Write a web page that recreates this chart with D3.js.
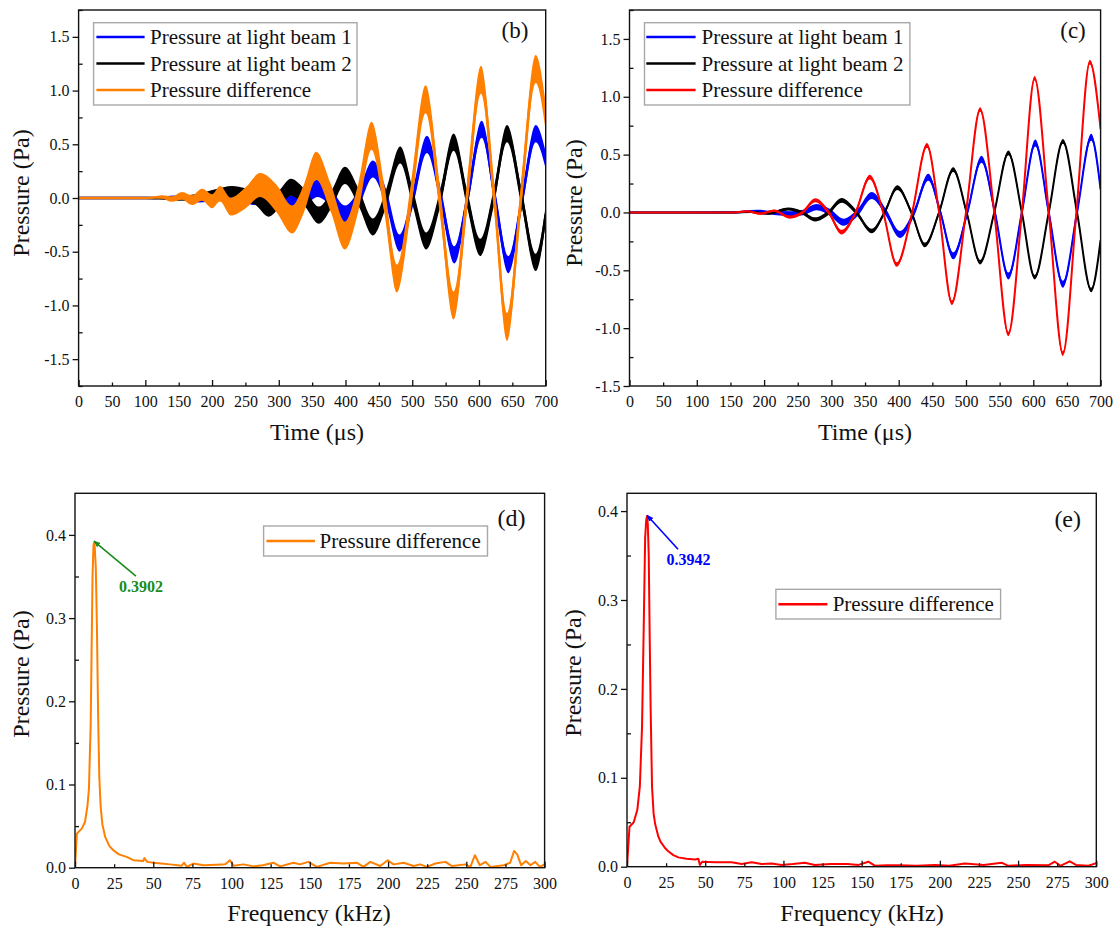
<!DOCTYPE html>
<html><head><meta charset="utf-8">
<script src="https://cdn.jsdelivr.net/npm/d3@7"></script>
<style>body{margin:0;background:#fff} svg text{font-family:"Liberation Serif","Times New Roman",serif}</style>
</head><body>
<svg id="chart" width="1117" height="928"></svg>
<script>
// ---------------- DATA ----------------
// Panel (b): time (µs), pressure (Pa)
const b_beam1 = [[0,0],[100,0],[150,0.005],[180,-0.01],[210,0.02],[240,0.03],[262,0],[282,0.02],[300,0],[319,-0.06],[339,0],[358,0.09],[379,0],[399,-0.15],[420,0],[441,0.27],[461,0],[481,-0.42],[501,0],[522,0.5],[543,0],[563,-0.53],[583,0],[604,0.64],[624,0],[644,-0.62],[665,0],[685,0.6],[700,0.35]];
const b_beam2 = [[0,0],[100,0],[150,-0.005],[180,0.01],[205,0.04],[230,0.06],[250,0.03],[265,0],[285,-0.1],[302,0],[318,0.1],[339,0],[360,-0.16],[380,0],[399,0.21],[420,0],[441,-0.27],[461,0],[482,0.4],[501,0],[521,-0.4],[542,0],[562,0.52],[582,0],[602,-0.46],[622,0],[642,0.6],[664,0],[685,-0.6],[700,-0.15]];
const b_diff  = [[0,0],[100,0],[125,0.01],[140,-0.01],[155,0.02],[170,-0.02],[185,0.03],[200,-0.03],[212,0.04],[228,-0.08],[250,0],[272,0.12],[296,0],[320,-0.2],[338,0],[356,0.3],[378,0],[399,-0.35],[419,0],[439,0.58],[458,0],[477,-0.75],[498,0],[520,0.92],[541,0],[562,-1.0],[582,0],[603,1.1],[623,0],[642,-1.2],[663,0],[685,1.2],[700,0.75]];
// Panel (c)
const c_beam1 = [[0,0],[150,0],[190,0.01],[215,-0.005],[240,-0.01],[258,0],[278,0.046],[298,0],[318,-0.084],[339,0],[360,0.147],[381,0],[402,-0.19],[423,0],[444,0.305],[462,0],[481,-0.375],[502,0],[523,0.46],[543,0],[563,-0.55],[583,0],[603,0.6],[623,0],[644,-0.62],[665,0],[686,0.65],[700,0.2]];
const c_beam2 = [[0,0],[150,0],[180,0.005],[205,-0.01],[236,0.03],[256,0],[276,-0.06],[296,0],[315,0.104],[337,0],[360,-0.16],[379,0],[398,0.215],[419,0],[439,-0.28],[460,0],[481,0.37],[501,0],[521,-0.43],[542,0],[563,0.515],[583,0],[602,-0.56],[623,0],[644,0.615],[665,0],[686,-0.67],[700,-0.24]];
const c_diff  = [[0,0],[150,0],[175,0.01],[195,-0.01],[215,0.015],[238,-0.04],[257,0],[276,0.105],[296,0],[315,-0.17],[336,0],[357,0.305],[377,0],[397,-0.45],[420,0],[442,0.58],[460,0],[479,-0.78],[500,0],[521,0.89],[542,0],[563,-1.05],[583,0],[602,1.16],[623,0],[644,-1.22],[664,0],[684,1.30],[700,0.72]];
// Panel (d): frequency (kHz), amplitude (Pa)
const d_spectrum = [[0,0],[1.2,0.041],[4.3,0.047],[6.4,0.055],[8,0.075],[8.9,0.095],[10,0.17],[10.6,0.26],[11.2,0.35],[11.8,0.387],[12.1,0.3902],[12.6,0.386],[13.3,0.36],[14,0.29],[14.8,0.18],[15.5,0.11],[16.4,0.073],[17.5,0.052],[19.3,0.037],[22,0.026],[24.5,0.021],[28,0.016],[33,0.013],[37.3,0.009],[43.6,0.008],[44.3,0.0116],[46.2,0.007],[50,0.006],[55,0.005],[60.7,0.004],[68.2,0.0024],[69.7,0.006],[71.4,0.001],[75.6,0.005],[82,0.003],[90.5,0.0036],[96,0.004],[99,0.009],[101.3,0.0024],[107.7,0.004],[114,0.0016],[120,0.003],[126.7,0.006],[131,0.0016],[139.6,0.006],[143.8,0.004],[149,0.007],[154.5,0.001],[163,0.006],[171.5,0.005],[180,0.006],[184.3,0.001],[188.6,0.007],[195,0.002],[199.8,0.009],[203.5,0.004],[209.9,0.006],[216.3,0.002],[220.5,0.004],[224.8,0.001],[230.2,0.005],[236.6,0.007],[240.9,0.002],[249.4,0.004],[252.6,0.001],[255.5,0.015],[258.6,0.003],[262.3,0.007],[265.4,0.001],[274,0.003],[278,0.006],[280.5,0.02],[282.5,0.016],[285,0.003],[288,0.008],[291,0.003],[294,0.007],[297,0.001],[300,0.004]];
// Panel (e)
const e_spectrum = [[0,0],[1.6,0.045],[4.3,0.05],[6.6,0.064],[8.2,0.09],[9.6,0.157],[10.7,0.27],[11.6,0.37],[12.3,0.39],[12.8,0.3942],[13.3,0.385],[13.9,0.35],[14.5,0.26],[15.1,0.18],[16,0.09],[17,0.06],[18,0.048],[20,0.034],[21.5,0.028],[24.3,0.021],[26,0.018],[29.6,0.013],[32.8,0.0105],[38,0.009],[43.5,0.008],[45.6,0.009],[46.6,0.002],[48.1,0.0056],[56.3,0.005],[66.9,0.005],[73.3,0.003],[79.7,0.005],[86,0.003],[92.4,0.0037],[98.8,0.002],[106,0.003],[113.7,0.0045],[120,0.002],[130,0.003],[141,0.003],[148,0.002],[154.3,0.0056],[158.6,0.001],[166,0.0015],[173.5,0.0015],[185,0.001],[197,0.002],[206,0.001],[216,0.0037],[228,0.002],[239.5,0.0045],[243.7,0.001],[255,0.002],[269.3,0.0015],[273.5,0.0056],[277,0.001],[283,0.006],[287,0.002],[295,0.001],[300,0.004]];
const d_peak = [12.1, 0.3902];
const e_peak = [12.8, 0.3942];

// Tick values / labels
const timeLabels = [0,50,100,150,200,250,300,350,400,450,500,550,600,650,700];
const timeMajor = [0,100,200,300,400,500,600,700];
const timeMinor = [50,150,250,350,450,550,650];
const freqLabels = [0,25,50,75,100,125,150,175,200,225,250,275,300];
const freqMajor = [0,50,100,150,200,250,300];
const freqMinor = [25,75,125,175,225,275];
const pressTimeMajor = [-1.5,-1.0,-0.5,0.0,0.5,1.0,1.5];
const pressTimeMinor = [-1.75,-1.25,-0.75,-0.25,0.25,0.75,1.25,1.75];
const pressFreqMajor = [0.0,0.1,0.2,0.3,0.4];
const pressFreqMinor = [0.05,0.15,0.25,0.35];

const legendTime = ["Pressure at light beam 1","Pressure at light beam 2","Pressure difference"];
const legendFreq = ["Pressure difference"];

// ---------------- DRAWING ----------------
const svg = d3.select("#chart");
const FONT = '"Liberation Serif","Times New Roman",serif';
const BLUE = "#0000ff", BLACK = "#000000", ORANGE = "#ff8000", RED = "#ff0000";
const fmt1 = v => (Math.abs(v) < 1e-9 ? 0 : v).toFixed(1);

const P = {
  b: {x0: 78.6, x1: 545.7, y0: 10, y1: 386},
  c: {x0: 629.5, x1: 1100.6, y0: 10, y1: 386},
  d: {x0: 75, x1: 544.6, y0: 493.3, y1: 867.7},
  e: {x0: 627, x1: 1096.3, y0: 493.3, y1: 866.7}
};

const defs = svg.append("defs");
Object.entries(P).forEach(([k, p]) => {
  defs.append("clipPath").attr("id", "clip-" + k).append("rect")
    .attr("x", p.x0).attr("y", p.y0).attr("width", p.x1 - p.x0).attr("height", p.y1 - p.y0);
});
function marker(id, color) {
  defs.append("marker").attr("id", id).attr("viewBox", "0 0 10 10").attr("refX", 9).attr("refY", 5)
    .attr("markerWidth", 7).attr("markerHeight", 7).attr("markerUnits", "userSpaceOnUse").attr("orient", "auto")
    .append("path").attr("d", "M0,1 L10,5 L0,9 Z").attr("fill", color);
}
marker("arrGreen", "#1a8c1a");
marker("arrBlue", BLUE);

function styleAxis(g) {
  g.select(".domain").remove();
  g.selectAll("line").attr("stroke", "#111").attr("stroke-width", 1.3);
  g.selectAll("text").attr("font-family", FONT).attr("font-size", 16).attr("fill", "#111");
}

function axes(p, x, y, xl, xM, xm, yM, ym) {
  let g = svg.append("g").attr("transform", `translate(0,${p.y1})`)
    .call(d3.axisBottom(x).tickValues(xl).tickSize(0).tickPadding(9.5).tickFormat(d => d));
  styleAxis(g);
  g = svg.append("g").attr("transform", `translate(0,${p.y1})`)
    .call(d3.axisBottom(x).tickValues(xM).tickSize(-6).tickFormat(""));
  styleAxis(g);
  g = svg.append("g").attr("transform", `translate(0,${p.y1})`)
    .call(d3.axisBottom(x).tickValues(xm).tickSize(-3.5).tickFormat(""));
  styleAxis(g);
  g = svg.append("g").attr("transform", `translate(${p.x0},0)`)
    .call(d3.axisLeft(y).tickValues(yM).tickSize(6).tickPadding(3).tickFormat(fmt1));
  styleAxis(g);
  g = svg.append("g").attr("transform", `translate(${p.x0},0)`)
    .call(d3.axisLeft(y).tickValues(ym).tickSize(-4).tickFormat(""));
  styleAxis(g);
  svg.append("rect").attr("x", p.x0).attr("y", p.y0).attr("width", p.x1 - p.x0).attr("height", p.y1 - p.y0)
    .attr("fill", "none").attr("stroke", "#111").attr("stroke-width", 1.4);
}

function text(x, y, s, size, opts = {}) {
  const t = svg.append("text").attr("x", x).attr("y", y).text(s)
    .attr("font-size", size).attr("font-family", FONT).attr("fill", opts.fill || "#111");
  if (opts.anchor) t.attr("text-anchor", opts.anchor);
  if (opts.weight) t.attr("font-weight", opts.weight);
  if (opts.rotate) t.attr("transform", `rotate(-90,${x},${y})`);
  return t;
}

// noisy band + center line for time series
function series(key, x, y, data, color, halfBand, lineW) {
  const ramp = t => Math.max(0, Math.min(1, (t - 100) / 200));
  const g = svg.append("g").attr("clip-path", `url(#clip-${key})`);
  if (halfBand > 0) {
    const area = d3.area().curve(d3.curveMonotoneX)
      .x(d => x(d[0])).y0(d => y(d[1] - halfBand * ramp(d[0]))).y1(d => y(d[1] + halfBand * ramp(d[0])));
    g.append("path").datum(data).attr("d", area).attr("fill", color).attr("stroke", "none");
  }
  const line = d3.line().curve(d3.curveMonotoneX).x(d => x(d[0])).y(d => y(d[1]));
  g.append("path").datum(data).attr("d", line).attr("fill", "none").attr("stroke", color)
    .attr("stroke-width", lineW).attr("stroke-linejoin", "round");
}

function spectrum(key, x, y, data, color) {
  const line = d3.line().x(d => x(d[0])).y(d => y(d[1]));
  svg.append("g").attr("clip-path", `url(#clip-${key})`).append("path").datum(data).attr("d", line)
    .attr("fill", "none").attr("stroke", color).attr("stroke-width", 2).attr("stroke-linejoin", "round");
}

function legend(bx, by, bw, bh, lx0, lx1, tx, rows, rowGap, labels, colors) {
  svg.append("rect").attr("x", bx).attr("y", by).attr("width", bw).attr("height", bh)
    .attr("fill", "#fff").attr("stroke", "#a8a8a8").attr("stroke-width", 1.4);
  labels.forEach((s, i) => {
    const cy = rows + i * rowGap;
    svg.append("line").attr("x1", lx0).attr("x2", lx1).attr("y1", cy).attr("y2", cy)
      .attr("stroke", colors[i]).attr("stroke-width", 2.5);
    text(tx, cy + 7, s, 21);
  });
}

// ---- Panel (b)
{
  const p = P.b;
  const x = d3.scaleLinear().domain([0, 700]).range([p.x0, p.x1]);
  const y = d3.scaleLinear().domain([-1.75, 1.75]).range([p.y1, p.y0]);
  series("b", x, y, b_beam1, BLUE, 0.08, 2.5);
  series("b", x, y, b_beam2, BLACK, 0.08, 2.5);
  series("b", x, y, b_diff, ORANGE, 0.13, 2.5);
  axes(p, x, y, timeLabels, timeMajor, timeMinor, pressTimeMajor, pressTimeMinor);
  legend(93.6, 22.7, 263.4, 82.3, 96.4, 144.6, 150, 37, 26.5, legendTime, [BLUE, BLACK, ORANGE]);
  text(515, 37.5, "(b)", 23, {anchor: "middle"});
  text(317, 440, "Time (\u03bcs)", 24, {anchor: "middle"});
  text(28.5, 193, "Pressure (Pa)", 24, {anchor: "middle", rotate: true});
}
// ---- Panel (c)
{
  const p = P.c;
  const x = d3.scaleLinear().domain([0, 700]).range([p.x0, p.x1]);
  const y = d3.scaleLinear().domain([-1.5, 1.75]).range([p.y1, p.y0]);
  series("c", x, y, c_beam1, BLUE, 0.03, 2);
  series("c", x, y, c_beam2, BLACK, 0.02, 2);
  series("c", x, y, c_diff, RED, 0.02, 2);
  axes(p, x, y, timeLabels, timeMajor, timeMinor, pressTimeMajor, pressTimeMinor.filter(v => v > -1.5));
  legend(644.5, 22.7, 265.4, 82.3, 646.3, 695.6, 701.6, 37, 26.5, legendTime, [BLUE, BLACK, RED]);
  text(1073, 37.5, "(c)", 23, {anchor: "middle"});
  text(865, 440, "Time (\u03bcs)", 24, {anchor: "middle"});
  text(582, 203, "Pressure (Pa)", 24, {anchor: "middle", rotate: true});
}
// ---- Panel (d)
{
  const p = P.d;
  const x = d3.scaleLinear().domain([0, 300]).range([p.x0, p.x1]);
  const y = d3.scaleLinear().domain([0, 0.45]).range([p.y1, p.y0]);
  spectrum("d", x, y, d_spectrum, ORANGE);
  axes(p, x, y, freqLabels, freqMajor, freqMinor, pressFreqMajor, pressFreqMinor);
  legend(263.6, 526, 223.9, 30, 266.4, 315, 319.6, 541, 0, legendFreq, [ORANGE]);
  text(511.6, 526, "(d)", 24, {anchor: "middle"});
  text(309, 921, "Frequency (kHz)", 24, {anchor: "middle"});
  text(28.5, 674, "Pressure (Pa)", 24, {anchor: "middle", rotate: true});
  const tx = x(d_peak[0]), ty = y(d_peak[1]) - 2;
  svg.append("line").attr("x1", tx + 42).attr("y1", ty + 35).attr("x2", tx).attr("y2", ty)
    .attr("stroke", "#1a8c1a").attr("stroke-width", 1.6).attr("marker-end", "url(#arrGreen)");
  text(118.9, 592, d_peak[1].toFixed(4), 16, {fill: "#1a8c1a", weight: "bold"});
}
// ---- Panel (e)
{
  const p = P.e;
  const x = d3.scaleLinear().domain([0, 300]).range([p.x0, p.x1]);
  const y = d3.scaleLinear().domain([0, 0.42]).range([p.y1, p.y0]);
  spectrum("e", x, y, e_spectrum, RED);
  axes(p, x, y, freqLabels, freqMajor, freqMinor, pressFreqMajor, pressFreqMinor);
  legend(775.9, 589.3, 224.7, 29.7, 778.4, 827.4, 832.7, 604.3, 0, legendFreq, [RED]);
  text(1067.7, 527, "(e)", 24, {anchor: "middle"});
  text(862, 921, "Frequency (kHz)", 24, {anchor: "middle"});
  text(581, 673, "Pressure (Pa)", 24, {anchor: "middle", rotate: true});
  const tx = x(e_peak[0]), ty = y(e_peak[1]) - 1;
  svg.append("line").attr("x1", tx + 31).attr("y1", ty + 34).attr("x2", tx).attr("y2", ty)
    .attr("stroke", BLUE).attr("stroke-width", 1.6).attr("marker-end", "url(#arrBlue)");
  text(666.6, 565, e_peak[1].toFixed(4), 16, {fill: BLUE, weight: "bold"});
}
</script>
</body></html>
